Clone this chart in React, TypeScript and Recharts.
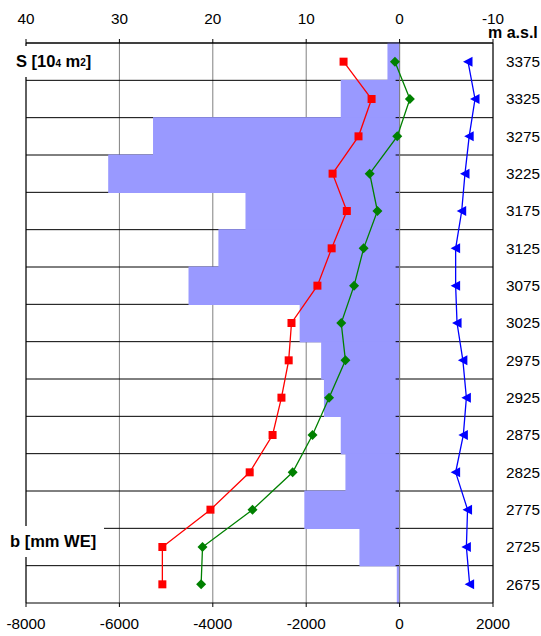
import React from 'react';
import { ComposedChart, Bar, Line, XAxis, YAxis, CartesianGrid, ReferenceLine } from 'recharts';

// elevation bands (m a.s.l), top to bottom
const elevations = [3375, 3325, 3275, 3225, 3175, 3125, 3075, 3025, 2975, 2925, 2875, 2825, 2775, 2725, 2675];
// area per band, S [10^4 m2]
const area = [1.3, 6.3, 26.4, 31.2, 16.5, 19.4, 22.6, 10.7, 8.4, 8.1, 6.3, 5.8, 10.2, 4.3, 0.3];
// b [mm WE]
const redSeries = [-1200, -600, -880, -1435, -1130, -1455, -1760, -2315, -2375, -2530, -2720, -3210, -4050, -5080, -5080];
const greenSeries = [-100, 220, -50, -640, -475, -770, -975, -1250, -1160, -1510, -1865, -2290, -3150, -4220, -4250];
const blueSeries = [1465, 1615, 1490, 1400, 1330, 1200, 1200, 1230, 1355, 1430, 1365, 1200, 1455, 1430, 1500];

const areaTicks = [40, 30, 20, 10, 0, -10];
const balanceTicks = [-8000, -6000, -4000, -2000, 0, 2000];

const rows = elevations.map((e, i) => ({
  elev: String(e),
  area: area[i],
  red: redSeries[i],
  green: greenSeries[i],
  blue: blueSeries[i],
}));

const font = 'Liberation Sans, Arial, sans-serif';
const tickStyle = { fill: '#000', fontSize: 15.3, fontFamily: font };

// horizontal gridline on the top edge of each band (drawn under the bars)
const GridRow = (p: any) => (
  <line key={`g${p.index}`} x1={p.x} x2={p.x + p.width} y1={p.y} y2={p.y} stroke="#000" strokeWidth={1} />
);

// bars fill the whole band, plus the little axis tick at the zero line
const BandBar = (p: any) => {
  const x0 = Math.min(p.x, p.x + p.width);
  const w = Math.abs(p.width);
  const zero = p.x;
  return (
    <g>
      <rect x={x0} y={p.y - 0.5} width={w} height={p.height + 1.5} fill="#9999ff" />
      {p.index > 0 && <line x1={zero - 4} x2={zero} y1={p.y} y2={p.y} stroke="#000" />}
    </g>
  );
};

const Square = (p: any) => (
  <rect key={p.key ?? `sq${p.index}`} x={p.cx - 4} y={p.cy - 4} width={8} height={8} fill="#ff0000" />
);
const Diamond = (p: any) => (
  <path
    key={p.key ?? `dm${p.index}`}
    d={`M${p.cx},${p.cy - 5}L${p.cx + 5},${p.cy}L${p.cx},${p.cy + 5}L${p.cx - 5},${p.cy}Z`}
    fill="#008000"
  />
);
const Triangle = (p: any) => (
  <path
    key={p.key ?? `tr${p.index}`}
    d={`M${p.cx - 5},${p.cy}L${p.cx + 4.5},${p.cy - 5}L${p.cx + 4.5},${p.cy + 5}Z`}
    fill="#0000ff"
  />
);

const labelBox: React.CSSProperties = {
  position: 'absolute',
  background: '#fff',
  fontFamily: font,
  fontWeight: 'bold',
  fontSize: 16.5,
  color: '#000',
  whiteSpace: 'nowrap',
};

export default function App() {
  return (
    <div style={{ position: 'absolute', left: 0, top: 0, width: 541, height: 636, background: '#fff' }}>
      <ComposedChart
        width={541}
        height={636}
        data={rows}
        layout="vertical"
        barCategoryGap={0}
        margin={{ top: 13, right: 0, bottom: 3, left: 26 }}
      >
        <CartesianGrid xAxisId="bottom" horizontal={false} stroke="#808080" />
        <XAxis
          xAxisId="top"
          orientation="top"
          type="number"
          domain={[-10, 40]}
          reversed
          ticks={areaTicks}
          allowDataOverflow
          height={30}
          tickSize={4}
          tickMargin={15}
          stroke="#000"
          tick={tickStyle}
        />
        <XAxis
          xAxisId="bottom"
          orientation="bottom"
          type="number"
          domain={[-8000, 2000]}
          ticks={balanceTicks}
          allowDataOverflow
          height={30}
          tickSize={4}
          tickMargin={11}
          stroke="#000"
          tick={tickStyle}
        />
        <YAxis
          type="category"
          dataKey="elev"
          orientation="right"
          width={48}
          axisLine={false}
          tickLine={false}
          tickSize={6}
          tickMargin={7}
          tick={tickStyle}
        />
        <ReferenceLine xAxisId="bottom" x={-8000} stroke="#000" />
        <ReferenceLine xAxisId="bottom" x={2000} stroke="#000" />
        <Bar
          xAxisId="top"
          dataKey="area"
          fill="#9999ff"
          background={GridRow}
          shape={BandBar}
          isAnimationActive={false}
        />
        <ReferenceLine xAxisId="bottom" x={0} stroke="#808080" />
        <Line
          xAxisId="bottom"
          dataKey="red"
          stroke="#ff0000"
          strokeWidth={1.3}
          dot={Square}
          isAnimationActive={false}
        />
        <Line
          xAxisId="bottom"
          dataKey="green"
          stroke="#008000"
          strokeWidth={1.3}
          dot={Diamond}
          isAnimationActive={false}
        />
        <Line
          xAxisId="bottom"
          dataKey="blue"
          stroke="#0000ff"
          strokeWidth={1.3}
          dot={Triangle}
          isAnimationActive={false}
        />
      </ComposedChart>
      <div style={{ ...labelBox, left: 10, top: 46, width: 88, height: 31, lineHeight: '31px', paddingLeft: 6, boxSizing: 'border-box' }}>
        S [10<span style={{ fontSize: 10 }}>4</span> m<span style={{ fontSize: 10, position: 'relative', top: -1 }}>2</span>]
      </div>
      <div style={{ ...labelBox, left: 8, top: 526, width: 96, height: 31, lineHeight: '31px', paddingLeft: 2, boxSizing: 'border-box' }}>
        b [mm WE]
      </div>
      <div style={{ ...labelBox, background: 'none', left: 488, top: 28, fontSize: 16, lineHeight: '10px' }}>m a.s.l</div>
    </div>
  );
}
